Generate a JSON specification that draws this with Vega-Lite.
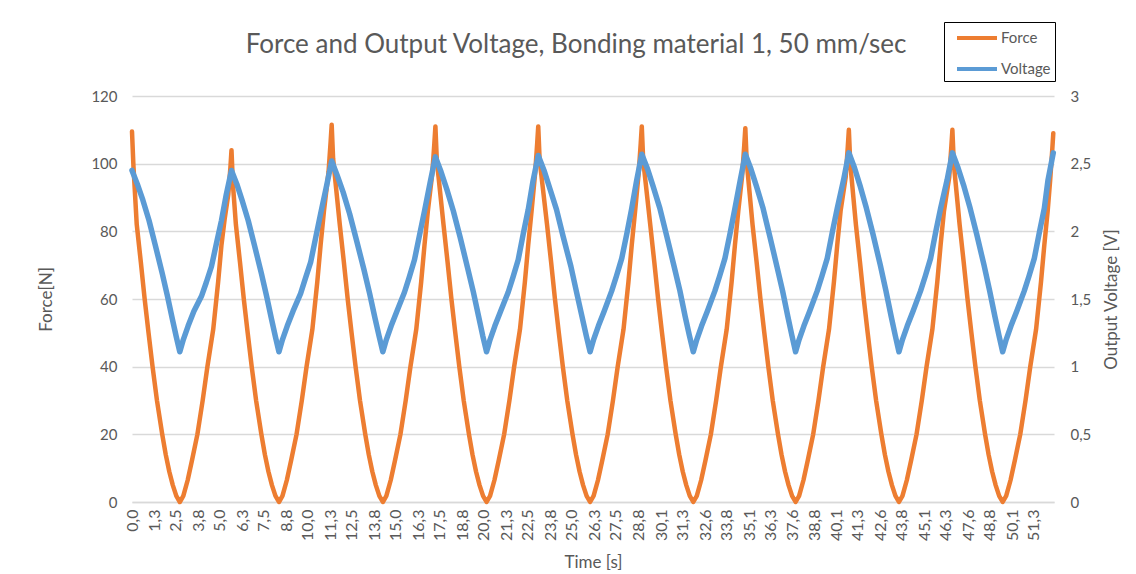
{
  "$schema": "https://vega.github.io/schema/vega-lite/v6.json",
  "width": 922,
  "height": 406,
  "autosize": {"type": "none"},
  "padding": {"left": 132, "top": 96, "right": 82, "bottom": 72},
  "background": "white",
  "title": {
    "text": "Force and Output Voltage, Bonding material 1, 50 mm/sec",
    "fontSize": 26,
    "fontWeight": "normal",
    "color": "#595959",
    "anchor": "middle",
    "dx": -17,
    "offset": -36
  },
  "config": {
    "font": "Lato",
    "view": {"stroke": null},
    "axis": {
      "labelColor": "#595959",
      "titleColor": "#595959",
      "labelFontSize": 15,
      "titleFontSize": 17,
      "titleFontWeight": "normal",
      "ticks": false,
      "tickSize": 0
    },
    "axisX": {"labelOverlap": false},
    "legend": {
      "labelColor": "#595959",
      "labelFontSize": 15
    }
  },
  "datasets": {
    "force": [
      {"t": 0, "F": 109.5}, {"t": 0.08, "F": 99.5}, {"t": 0.27, "F": 82}, {"t": 0.5, "F": 71}, {"t": 0.72, "F": 60}, {"t": 0.94, "F": 50}, {"t": 1.17, "F": 40}, {"t": 1.42, "F": 30}, {"t": 1.72, "F": 20}, {"t": 1.92, "F": 14}, {"t": 2.12, "F": 9}, {"t": 2.32, "F": 5}, {"t": 2.52, "F": 1.8}, {"t": 2.72, "F": 0},
      {"t": 2.92, "F": 1.8}, {"t": 3.17, "F": 6.5}, {"t": 3.42, "F": 12.5}, {"t": 3.72, "F": 20}, {"t": 4.02, "F": 30}, {"t": 4.29, "F": 40}, {"t": 4.62, "F": 51}, {"t": 4.9, "F": 65}, {"t": 5.09, "F": 76}, {"t": 5.28, "F": 84}, {"t": 5.48, "F": 91}, {"t": 5.6, "F": 99}, {"t": 5.66, "F": 104},
      {"t": 5.74, "F": 94}, {"t": 5.91, "F": 82}, {"t": 6.14, "F": 71}, {"t": 6.36, "F": 60}, {"t": 6.58, "F": 50}, {"t": 6.81, "F": 40}, {"t": 7.06, "F": 30}, {"t": 7.36, "F": 20}, {"t": 7.56, "F": 14}, {"t": 7.76, "F": 9}, {"t": 7.96, "F": 5}, {"t": 8.16, "F": 1.8}, {"t": 8.36, "F": 0},
      {"t": 8.56, "F": 1.8}, {"t": 8.81, "F": 6.5}, {"t": 9.06, "F": 12.5}, {"t": 9.36, "F": 20}, {"t": 9.66, "F": 30}, {"t": 9.93, "F": 40}, {"t": 10.26, "F": 51}, {"t": 10.54, "F": 65}, {"t": 10.73, "F": 76}, {"t": 10.92, "F": 86}, {"t": 11.18, "F": 97.5}, {"t": 11.3, "F": 106.5}, {"t": 11.36, "F": 111.5},
      {"t": 11.44, "F": 101.5}, {"t": 11.82, "F": 82}, {"t": 12.05, "F": 71}, {"t": 12.27, "F": 60}, {"t": 12.49, "F": 50}, {"t": 12.72, "F": 40}, {"t": 12.97, "F": 30}, {"t": 13.27, "F": 20}, {"t": 13.47, "F": 14}, {"t": 13.67, "F": 9}, {"t": 13.87, "F": 5}, {"t": 14.07, "F": 1.8}, {"t": 14.27, "F": 0},
      {"t": 14.47, "F": 1.8}, {"t": 14.72, "F": 6.5}, {"t": 14.97, "F": 12.5}, {"t": 15.27, "F": 20}, {"t": 15.57, "F": 30}, {"t": 15.84, "F": 40}, {"t": 16.17, "F": 51}, {"t": 16.45, "F": 65}, {"t": 16.64, "F": 76}, {"t": 16.83, "F": 86}, {"t": 17.08, "F": 97}, {"t": 17.2, "F": 106}, {"t": 17.26, "F": 111},
      {"t": 17.34, "F": 101}, {"t": 17.72, "F": 82}, {"t": 17.95, "F": 71}, {"t": 18.17, "F": 60}, {"t": 18.39, "F": 50}, {"t": 18.62, "F": 40}, {"t": 18.87, "F": 30}, {"t": 19.17, "F": 20}, {"t": 19.37, "F": 14}, {"t": 19.57, "F": 9}, {"t": 19.77, "F": 5}, {"t": 19.97, "F": 1.8}, {"t": 20.17, "F": 0},
      {"t": 20.37, "F": 1.8}, {"t": 20.62, "F": 6.5}, {"t": 20.87, "F": 12.5}, {"t": 21.17, "F": 20}, {"t": 21.47, "F": 30}, {"t": 21.74, "F": 40}, {"t": 22.07, "F": 51}, {"t": 22.35, "F": 65}, {"t": 22.54, "F": 76}, {"t": 22.73, "F": 86}, {"t": 22.93, "F": 97}, {"t": 23.05, "F": 106}, {"t": 23.11, "F": 111},
      {"t": 23.19, "F": 101}, {"t": 23.61, "F": 82}, {"t": 23.84, "F": 71}, {"t": 24.06, "F": 60}, {"t": 24.28, "F": 50}, {"t": 24.51, "F": 40}, {"t": 24.76, "F": 30}, {"t": 25.06, "F": 20}, {"t": 25.26, "F": 14}, {"t": 25.46, "F": 9}, {"t": 25.66, "F": 5}, {"t": 25.86, "F": 1.8}, {"t": 26.06, "F": 0},
      {"t": 26.26, "F": 1.8}, {"t": 26.51, "F": 6.5}, {"t": 26.76, "F": 12.5}, {"t": 27.06, "F": 20}, {"t": 27.36, "F": 30}, {"t": 27.63, "F": 40}, {"t": 27.96, "F": 51}, {"t": 28.24, "F": 65}, {"t": 28.43, "F": 76}, {"t": 28.62, "F": 86}, {"t": 28.82, "F": 97}, {"t": 28.94, "F": 106}, {"t": 29.0, "F": 111},
      {"t": 29.08, "F": 101}, {"t": 29.48, "F": 82}, {"t": 29.71, "F": 71}, {"t": 29.93, "F": 60}, {"t": 30.15, "F": 50}, {"t": 30.38, "F": 40}, {"t": 30.63, "F": 30}, {"t": 30.93, "F": 20}, {"t": 31.13, "F": 14}, {"t": 31.33, "F": 9}, {"t": 31.53, "F": 5}, {"t": 31.73, "F": 1.8}, {"t": 31.93, "F": 0},
      {"t": 32.13, "F": 1.8}, {"t": 32.38, "F": 6.5}, {"t": 32.63, "F": 12.5}, {"t": 32.93, "F": 20}, {"t": 33.23, "F": 30}, {"t": 33.5, "F": 40}, {"t": 33.83, "F": 51}, {"t": 34.11, "F": 65}, {"t": 34.3, "F": 76}, {"t": 34.49, "F": 86}, {"t": 34.71, "F": 96.5}, {"t": 34.83, "F": 105.5}, {"t": 34.89, "F": 110.5},
      {"t": 34.97, "F": 100.5}, {"t": 35.3, "F": 82}, {"t": 35.53, "F": 71}, {"t": 35.75, "F": 60}, {"t": 35.97, "F": 50}, {"t": 36.2, "F": 40}, {"t": 36.45, "F": 30}, {"t": 36.75, "F": 20}, {"t": 36.95, "F": 14}, {"t": 37.15, "F": 9}, {"t": 37.35, "F": 5}, {"t": 37.55, "F": 1.8}, {"t": 37.75, "F": 0},
      {"t": 37.95, "F": 1.8}, {"t": 38.2, "F": 6.5}, {"t": 38.45, "F": 12.5}, {"t": 38.75, "F": 20}, {"t": 39.05, "F": 30}, {"t": 39.32, "F": 40}, {"t": 39.65, "F": 51}, {"t": 39.93, "F": 65}, {"t": 40.12, "F": 76}, {"t": 40.31, "F": 86}, {"t": 40.6, "F": 96}, {"t": 40.72, "F": 105}, {"t": 40.78, "F": 110},
      {"t": 40.86, "F": 100}, {"t": 41.18, "F": 82}, {"t": 41.41, "F": 71}, {"t": 41.63, "F": 60}, {"t": 41.85, "F": 50}, {"t": 42.08, "F": 40}, {"t": 42.33, "F": 30}, {"t": 42.63, "F": 20}, {"t": 42.83, "F": 14}, {"t": 43.03, "F": 9}, {"t": 43.23, "F": 5}, {"t": 43.43, "F": 1.8}, {"t": 43.63, "F": 0},
      {"t": 43.83, "F": 1.8}, {"t": 44.08, "F": 6.5}, {"t": 44.33, "F": 12.5}, {"t": 44.63, "F": 20}, {"t": 44.93, "F": 30}, {"t": 45.2, "F": 40}, {"t": 45.53, "F": 51}, {"t": 45.81, "F": 65}, {"t": 46.0, "F": 76}, {"t": 46.19, "F": 86}, {"t": 46.49, "F": 96}, {"t": 46.61, "F": 105}, {"t": 46.67, "F": 110},
      {"t": 46.75, "F": 100}, {"t": 47.08, "F": 82}, {"t": 47.31, "F": 71}, {"t": 47.53, "F": 60}, {"t": 47.75, "F": 50}, {"t": 47.98, "F": 40}, {"t": 48.23, "F": 30}, {"t": 48.53, "F": 20}, {"t": 48.73, "F": 14}, {"t": 48.93, "F": 9}, {"t": 49.13, "F": 5}, {"t": 49.33, "F": 1.8}, {"t": 49.53, "F": 0},
      {"t": 49.73, "F": 1.8}, {"t": 49.98, "F": 6.5}, {"t": 50.23, "F": 12.5}, {"t": 50.53, "F": 20}, {"t": 50.83, "F": 30}, {"t": 51.1, "F": 40}, {"t": 51.43, "F": 51}, {"t": 51.71, "F": 65}, {"t": 51.9, "F": 76}, {"t": 52.09, "F": 86}, {"t": 52.23, "F": 95}, {"t": 52.35, "F": 104}, {"t": 52.41, "F": 109}
    ],
    "voltage": [
      {"t": 0, "V": 2.45}, {"t": 0.3, "V": 2.35}, {"t": 0.62, "V": 2.23}, {"t": 0.97, "V": 2.08}, {"t": 1.32, "V": 1.9}, {"t": 1.72, "V": 1.69}, {"t": 2.02, "V": 1.52}, {"t": 2.3, "V": 1.35}, {"t": 2.52, "V": 1.22}, {"t": 2.72, "V": 1.11},
      {"t": 2.92, "V": 1.2}, {"t": 3.19, "V": 1.3}, {"t": 3.52, "V": 1.41}, {"t": 3.95, "V": 1.52}, {"t": 4.22, "V": 1.62}, {"t": 4.52, "V": 1.74}, {"t": 4.82, "V": 1.92}, {"t": 5.09, "V": 2.08}, {"t": 5.36, "V": 2.27}, {"t": 5.66, "V": 2.45},
      {"t": 5.96, "V": 2.35}, {"t": 6.26, "V": 2.23}, {"t": 6.61, "V": 2.08}, {"t": 6.96, "V": 1.9}, {"t": 7.36, "V": 1.69}, {"t": 7.66, "V": 1.52}, {"t": 7.94, "V": 1.35}, {"t": 8.16, "V": 1.22}, {"t": 8.36, "V": 1.11},
      {"t": 8.56, "V": 1.2}, {"t": 8.83, "V": 1.3}, {"t": 9.16, "V": 1.41}, {"t": 9.59, "V": 1.54}, {"t": 9.86, "V": 1.65}, {"t": 10.16, "V": 1.77}, {"t": 10.46, "V": 1.96}, {"t": 10.73, "V": 2.13}, {"t": 11.06, "V": 2.33}, {"t": 11.36, "V": 2.52},
      {"t": 11.68, "V": 2.41}, {"t": 12.01, "V": 2.29}, {"t": 12.38, "V": 2.13}, {"t": 12.76, "V": 1.94}, {"t": 13.19, "V": 1.72}, {"t": 13.52, "V": 1.54}, {"t": 13.82, "V": 1.36}, {"t": 14.05, "V": 1.23}, {"t": 14.27, "V": 1.11},
      {"t": 14.47, "V": 1.2}, {"t": 14.74, "V": 1.3}, {"t": 15.07, "V": 1.41}, {"t": 15.5, "V": 1.55}, {"t": 15.77, "V": 1.66}, {"t": 16.07, "V": 1.79}, {"t": 16.37, "V": 1.98}, {"t": 16.64, "V": 2.15}, {"t": 16.96, "V": 2.36}, {"t": 17.26, "V": 2.55},
      {"t": 17.58, "V": 2.44}, {"t": 17.91, "V": 2.31}, {"t": 18.28, "V": 2.15}, {"t": 18.66, "V": 1.96}, {"t": 19.09, "V": 1.73}, {"t": 19.42, "V": 1.55}, {"t": 19.72, "V": 1.37}, {"t": 19.95, "V": 1.23}, {"t": 20.17, "V": 1.11},
      {"t": 20.37, "V": 1.2}, {"t": 20.64, "V": 1.3}, {"t": 20.97, "V": 1.41}, {"t": 21.4, "V": 1.55}, {"t": 21.67, "V": 1.66}, {"t": 21.97, "V": 1.79}, {"t": 22.27, "V": 1.99}, {"t": 22.54, "V": 2.16}, {"t": 22.81, "V": 2.37}, {"t": 23.11, "V": 2.56},
      {"t": 23.44, "V": 2.45}, {"t": 23.76, "V": 2.32}, {"t": 24.15, "V": 2.16}, {"t": 24.53, "V": 1.96}, {"t": 24.97, "V": 1.74}, {"t": 25.29, "V": 1.55}, {"t": 25.6, "V": 1.37}, {"t": 25.84, "V": 1.23}, {"t": 26.06, "V": 1.11},
      {"t": 26.26, "V": 1.2}, {"t": 26.53, "V": 1.3}, {"t": 26.86, "V": 1.41}, {"t": 27.29, "V": 1.56}, {"t": 27.56, "V": 1.67}, {"t": 27.86, "V": 1.8}, {"t": 28.16, "V": 1.99}, {"t": 28.43, "V": 2.17}, {"t": 28.7, "V": 2.37}, {"t": 29.0, "V": 2.57},
      {"t": 29.33, "V": 2.46}, {"t": 29.65, "V": 2.33}, {"t": 30.03, "V": 2.17}, {"t": 30.41, "V": 1.97}, {"t": 30.84, "V": 1.74}, {"t": 31.17, "V": 1.56}, {"t": 31.47, "V": 1.37}, {"t": 31.71, "V": 1.23}, {"t": 31.93, "V": 1.11},
      {"t": 32.13, "V": 1.2}, {"t": 32.4, "V": 1.3}, {"t": 32.73, "V": 1.41}, {"t": 33.16, "V": 1.56}, {"t": 33.43, "V": 1.67}, {"t": 33.73, "V": 1.8}, {"t": 34.03, "V": 1.99}, {"t": 34.3, "V": 2.17}, {"t": 34.59, "V": 2.37}, {"t": 34.89, "V": 2.57},
      {"t": 35.21, "V": 2.46}, {"t": 35.53, "V": 2.33}, {"t": 35.9, "V": 2.17}, {"t": 36.27, "V": 1.97}, {"t": 36.69, "V": 1.74}, {"t": 37.01, "V": 1.56}, {"t": 37.31, "V": 1.37}, {"t": 37.54, "V": 1.23}, {"t": 37.75, "V": 1.11},
      {"t": 37.95, "V": 1.2}, {"t": 38.22, "V": 1.3}, {"t": 38.55, "V": 1.41}, {"t": 38.98, "V": 1.56}, {"t": 39.25, "V": 1.67}, {"t": 39.55, "V": 1.8}, {"t": 39.85, "V": 2.0}, {"t": 40.12, "V": 2.17}, {"t": 40.48, "V": 2.38}, {"t": 40.78, "V": 2.58},
      {"t": 41.1, "V": 2.47}, {"t": 41.41, "V": 2.34}, {"t": 41.78, "V": 2.17}, {"t": 42.15, "V": 1.98}, {"t": 42.57, "V": 1.75}, {"t": 42.89, "V": 1.56}, {"t": 43.19, "V": 1.37}, {"t": 43.42, "V": 1.23}, {"t": 43.63, "V": 1.11},
      {"t": 43.83, "V": 1.2}, {"t": 44.1, "V": 1.3}, {"t": 44.43, "V": 1.41}, {"t": 44.86, "V": 1.56}, {"t": 45.13, "V": 1.67}, {"t": 45.43, "V": 1.8}, {"t": 45.73, "V": 2.0}, {"t": 46.0, "V": 2.17}, {"t": 46.37, "V": 2.38}, {"t": 46.67, "V": 2.58},
      {"t": 46.99, "V": 2.47}, {"t": 47.31, "V": 2.34}, {"t": 47.68, "V": 2.17}, {"t": 48.05, "V": 1.98}, {"t": 48.47, "V": 1.75}, {"t": 48.79, "V": 1.56}, {"t": 49.09, "V": 1.37}, {"t": 49.32, "V": 1.23}, {"t": 49.53, "V": 1.11},
      {"t": 49.73, "V": 1.2}, {"t": 50.0, "V": 1.3}, {"t": 50.33, "V": 1.41}, {"t": 50.76, "V": 1.56}, {"t": 51.03, "V": 1.67}, {"t": 51.33, "V": 1.8}, {"t": 51.63, "V": 2.0}, {"t": 51.9, "V": 2.17}, {"t": 52.11, "V": 2.38}, {"t": 52.41, "V": 2.58}
    ]
  },
  "encoding": {
    "x": {
      "field": "t",
      "type": "quantitative",
      "scale": {"domain": [0, 52.45], "nice": false, "zero": false},
      "axis": {
        "title": "Time [s]",
        "values": [0, 1.3, 2.5, 3.8, 5, 6.3, 7.5, 8.8, 10, 11.3, 12.5, 13.8, 15, 16.3, 17.5, 18.8, 20, 21.3, 22.5, 23.8, 25, 26.3, 27.5, 28.8, 30.1, 31.3, 32.6, 33.8, 35.1, 36.3, 37.6, 38.8, 40.1, 41.3, 42.6, 43.8, 45.1, 46.3, 47.6, 48.8, 50.1, 51.3],
        "labelExpr": "replace(format(datum.value, '.1f'), '.', ',')",
        "labelAngle": 270,
        "labelFontSize": 16,
        "labelOverlap": false,
        "labelPadding": 7,
        "titlePadding": 14,
        "grid": false,
        "domain": true,
        "domainColor": "#D9D9D9",
        "domainWidth": 1.5
      }
    }
  },
  "layer": [
    {
      "data": {"name": "force"},
      "mark": {"type": "line", "strokeWidth": 4.5, "strokeJoin": "round", "strokeCap": "round"},
      "encoding": {
        "y": {
          "field": "F",
          "type": "quantitative",
          "scale": {"domain": [0, 120], "nice": false},
          "axis": {
            "title": "Force[N]",
            "values": [0, 20, 40, 60, 80, 100, 120],
            "grid": true,
            "gridColor": "#D9D9D9",
            "gridWidth": 1.5,
            "domain": false,
            "labelPadding": 15,
            "titlePadding": 35
          }
        },
        "color": {
          "datum": "Force",
          "scale": {"domain": ["Force", "Voltage"], "range": ["#ED7D31", "#5B9BD5"]},
          "legend": {
            "title": null,
            "orient": "none",
            "legendX": 812,
            "legendY": -74,
            "symbolType": "M-2,0H2",
            "symbolSize": 400,
            "symbolStrokeWidth": 4,
            "symbolOffset": 17,
            "labelOffset": 12,
            "rowPadding": 11,
            "padding": 4,
            "strokeColor": "black",
            "fillColor": "white"
          }
        }
      }
    },
    {
      "data": {"name": "voltage"},
      "mark": {"type": "line", "strokeWidth": 5.5, "strokeJoin": "round", "strokeCap": "round"},
      "encoding": {
        "y": {
          "field": "V",
          "type": "quantitative",
          "scale": {"domain": [0, 3], "nice": false},
          "axis": {
            "title": "Output Voltage [V]",
            "orient": "right",
            "values": [0, 0.5, 1, 1.5, 2, 2.5, 3],
            "labelExpr": "replace(format(datum.value, '~g'), '.', ',')",
            "grid": false,
            "domain": false,
            "labelPadding": 16,
            "titleAngle": 270,
            "titlePadding": 30
          }
        },
        "color": {"datum": "Voltage"}
      }
    }
  ],
  "resolve": {"scale": {"y": "independent"}}
}
